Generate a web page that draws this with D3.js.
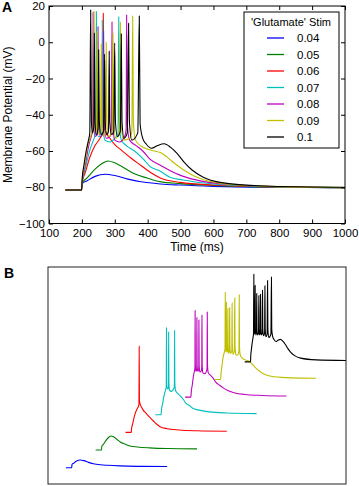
<!DOCTYPE html>
<html>
<head>
<meta charset="utf-8">
<script src="https://cdn.jsdelivr.net/npm/d3@7"></script>
<style>
  body { margin: 0; background: white; }
  text { font-family: "Liberation Sans", Arial, sans-serif; }
</style>
</head>
<body>
<div id="canvas"></div>
<script>
var width = 359;
var height = 486;

var svg = d3.select("#canvas").append("svg")
    .attr("width", width)
    .attr("height", height)
    .style("background-color", "white");

// stimulus levels (legend)
const stims = ["0.04", "0.05", "0.06", "0.07", "0.08", "0.09", "0.1"];
const colors = ["#0000ff", "#008000", "#ff0000", "#00bfbf", "#bf00bf", "#bfbf00", "#000000"];

// x / y tick values
const xTicks = [100, 200, 300, 400, 500, 600, 700, 800, 900, 1000];
const yTicks = [-100, -80, -60, -40, -20, 0, 20];

// traces, [time (ms), membrane potential (mV)]
const v004 = [[150,-81.5],[199,-81.5],[201,-78],[215,-76.5],[240,-74],[270,-72.8],[300,-73.5],[340,-75.5],
  [380,-77],[440,-78.2],[500,-78.8],[600,-79.5],[750,-80],[1000,-80.2]];

const v005 = [[150,-81.5],[199,-81.5],[201,-77.5],[215,-75],[240,-70],[260,-67],[280,-65.5],[300,-66.5],
  [330,-69.5],[356,-72.3],[400,-75],[437,-76.9],[500,-78],[600,-79],[750,-79.8],[1000,-80.2]];

const v006 = [[150,-81.5],[199,-81.5],[201,-77],[210,-72],[225,-63],[240,-57],[255,-53],[263,-50],
  [265,16],[267,-45],[272,-49],[285,-53],[300,-56.5],[320,-59.5],[350,-64],[380,-68],[410,-72],
  [440,-75],[500,-77.3],[600,-78.8],[750,-79.7],[1000,-80.2]];

const v007 = [[150,-81.5],[199,-81.5],[201,-77],[210,-70],[225,-59],[237,-53],[242,-50],
  [244,17],[246,-45],[250,-52],[257,-52],[261,-49],[262,12.3],[264,-45],[270,-54],[285,-55],
  [300,-53],[310,-50],[312,14],[314,-45],[320,-54],[335,-57],[360,-60],[387,-64.5],[407,-68.5],
  [437,-71],[468,-74.5],[508,-76],[600,-78.2],[750,-79.5],[1000,-80.2]];

const v008 = [[150,-81.5],[199,-81.5],[201,-77],[210,-68],[222,-56],[230,-51],[233,-48],
  [234,16.5],[236,-45],[240,-52],[246,-51],[248,-48],[249,8.6],[251,-45],[256,-52],[263,-51],
  [265,-48],[266,6],[268,-45],[274,-53],[285,-52],[290,-48],[291.5,11.2],[293.5,-45],[300,-54],
  [315,-55],[330,-52],[334.5,-48],[336,15],[338,-45],[345,-54],[365,-57],[385,-60],[407,-64.5],
  [440,-68],[470,-71],[508,-74],[560,-76.5],[650,-78.5],[800,-79.6],[1000,-80.2]];

const v009 = [[150,-81.5],[199,-81.5],[201,-76],[208,-68],[218,-57],[228,-51],[235,-47],
  [237,17],[239,-44],[242,-50],[245,-47],[246,6],[248,-44],[252,-51],[257,-48],[259,-1],[261,-44],
  [266,-52],[272,-48],[274,0],[276,-44],[282,-52],[292,-49],[294.5,5],[296.5,-44],[303,-53],
  [313,-50],[317,11],[319,-44],[327,-54],[345,-53],[352,-49],[354.4,14.5],[356.5,-44],[363,-54],
  [382,-57.5],[400,-59],[420,-60],[440,-61],[460,-63.5],[490,-68],[528,-72.5],[560,-75.2],
  [620,-77.8],[750,-79.4],[1000,-80.2]];

const v010 = [[150,-81.5],[199,-81.5],[201,-75],[206,-68],[213,-60],[220,-54],[224,-50],
  [226.7,17.8],[229,-44],[232,-50],[236,-47],[237.7,5],[240,-44],[244,-51],[249,-48],[251,-4.2],
  [253,-44],[258,-51],[266,-49],[269,-6.5],[271,-44],[275,-51],[281,-49],[283,-5],[285,-44],
  [290,-51],[297,-49],[299.7,-0.4],[302,-44],[308,-52],[317,-49],[319.8,4.6],[322,-44],[328,-53],
  [338,-50],[342,10.5],[344.5,-44],[352,-54],[370,-50],[374.5,14.5],[377,-45],[385,-53],[395,-56],
  [412,-58.5],[430,-57],[450,-56],[470,-58],[490,-61.5],[510,-66],[535,-70.5],[569,-74.5],
  [620,-77.3],[750,-79.3],[1000,-80]];

const traces = [v004, v005, v006, v007, v008, v009, v010];

// ---------------- panel A ----------------
const xScale = d3.scaleLinear().domain([100, 1000]).range([49, 345]);
const yScale = d3.scaleLinear().domain([-100, 20]).range([223.5, 6]);

const line = d3.line()
    .x(d => xScale(d[0]))
    .y(d => yScale(d[1]))
    .curve(d3.curveMonotoneX);

const gA = svg.append("g");

gA.selectAll(".trace")
    .data(traces)
    .enter().append("path")
    .attr("class", "trace")
    .attr("d", line)
    .style("fill", "none")
    .style("stroke", (d, i) => colors[i])
    .style("stroke-width", 1.1);

// inward ticks on all four sides
gA.append("g")
    .attr("transform", "translate(0," + yScale(-100) + ")")
    .call(d3.axisBottom(xScale).tickValues(xTicks).tickSize(-4).tickPadding(5).tickFormat(d3.format("d")));
gA.append("g")
    .attr("transform", "translate(0," + yScale(20) + ")")
    .call(d3.axisTop(xScale).tickValues(xTicks).tickSize(-4).tickFormat(""));
gA.append("g")
    .attr("transform", "translate(" + xScale(100) + ",0)")
    .call(d3.axisLeft(yScale).tickValues(yTicks).tickSize(-4).tickPadding(4));
gA.append("g")
    .attr("transform", "translate(" + xScale(1000) + ",0)")
    .call(d3.axisRight(yScale).tickValues(yTicks).tickSize(-4).tickFormat(""));

gA.selectAll(".domain").remove();
gA.selectAll(".tick line").style("stroke", "#000");
gA.selectAll(".tick text").style("font-size", "11.5px").style("fill", "#000")
    .style("font-family", "'Liberation Sans', Arial, sans-serif");

gA.append("rect")
    .attr("x", xScale(100)).attr("y", yScale(20))
    .attr("width", xScale(1000) - xScale(100))
    .attr("height", yScale(-100) - yScale(20))
    .style("fill", "none").style("stroke", "#000").style("stroke-width", 1);

gA.append("text")
    .attr("x", (xScale(100) + xScale(1000)) / 2)
    .attr("y", 251)
    .attr("text-anchor", "middle")
    .style("font-size", "12px")
    .text("Time (ms)");

gA.append("text")
    .attr("transform", "translate(12," + ((yScale(20) + yScale(-100)) / 2) + ") rotate(-90)")
    .attr("text-anchor", "middle")
    .style("font-size", "12px")
    .text("Membrane Potential (mV)");

// legend
const leg = gA.append("g");
leg.append("rect")
    .attr("x", 244).attr("y", 12).attr("width", 95).attr("height", 136)
    .style("fill", "white").style("stroke", "#000").style("stroke-width", 1);
leg.append("text")
    .attr("x", 291).attr("y", 26)
    .attr("text-anchor", "middle")
    .style("font-size", "11px")
    .text("'Glutamate' Stim");

const legRow = leg.selectAll(".row")
    .data(stims)
    .enter().append("g")
    .attr("class", "row")
    .attr("transform", (d, i) => "translate(0," + (38 + i * 16.5) + ")");
legRow.append("line")
    .attr("x1", 267).attr("x2", 284)
    .style("stroke", (d, i) => colors[i])
    .style("stroke-width", 1.3);
legRow.append("text")
    .attr("x", 297).attr("y", 4)
    .style("font-size", "11.5px")
    .text(d => d);

svg.append("text")
    .attr("x", 2).attr("y", 12)
    .style("font-size", "14px").style("font-weight", "bold")
    .text("A");

// ---------------- panel B (offset waterfall) ----------------
const tShift = 250;   // ms per trace
const vShift = 20;    // mV per trace

const xB = d3.scaleLinear().domain([0, 2500]).range([48, 346]);
const yB = d3.scaleLinear().domain([-100, 146]).range([484, 267]);

const gB = svg.append("g");

gB.append("rect")
    .attr("x", 48).attr("y", 267).attr("width", 298).attr("height", 217)
    .style("fill", "white").style("stroke", "#222").style("stroke-width", 1);

gB.selectAll(".trace")
    .data(traces)
    .enter().append("path")
    .attr("class", "trace")
    .attr("d", (d, i) => d3.line()
        .x(p => xB(p[0] + i * tShift))
        .y(p => yB(p[1] + i * vShift))
        .curve(d3.curveMonotoneX)(d))
    .style("fill", "none")
    .style("stroke", (d, i) => colors[i])
    .style("stroke-width", 1.1);

svg.append("text")
    .attr("x", 4).attr("y", 278)
    .style("font-size", "14px").style("font-weight", "bold")
    .text("B");
</script>
</body>
</html>
